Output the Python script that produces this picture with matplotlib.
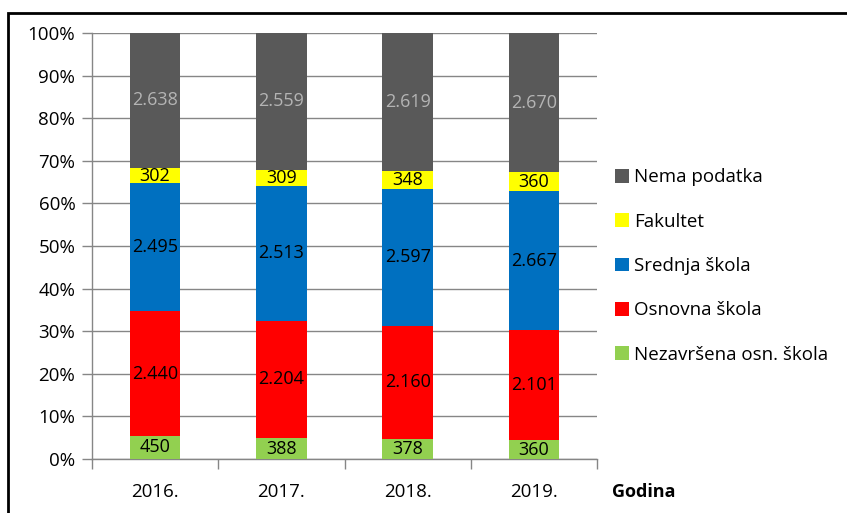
import numpy as np
import matplotlib.pyplot as plt
from matplotlib.patches import Rectangle
from matplotlib.ticker import PercentFormatter, FixedLocator

godine = ['2016.', '2017.', '2018.', '2019.']
nezavrsena = [450, 388, 378, 360]
osnovna = [2440, 2204, 2160, 2101]
srednja = [2495, 2513, 2597, 2667]
fakultet = [302, 309, 348, 360]
nema = [2638, 2559, 2619, 2670]

serije = [
    ('Nezavršena osn. škola', nezavrsena, '#92d050', 'black'),
    ('Osnovna škola', osnovna, '#ff0000', 'black'),
    ('Srednja škola', srednja, '#0070c0', 'black'),
    ('Fakultet', fakultet, '#ffff00', 'black'),
    ('Nema podatka', nema, '#595959', '#b4b4b4'),
]

plt.rcParams['font.family'] = ['Open Sans', 'DejaVu Sans']

ukupno = np.sum([s[1] for s in serije], axis=0)
x = np.arange(len(godine))

fig = plt.figure(figsize=(8.47, 5.13), dpi=100)
ax = fig.add_axes([92/847, 54/513, 505/847, 426/513])

dno = np.zeros(len(godine))
for naziv, vrijednosti, boja, boja_teksta in serije:
    udio = np.array(vrijednosti) / ukupno * 100
    bars = ax.bar(x, udio, 0.4, bottom=dno, color=boja, label=naziv, zorder=3)
    labels = [f'{v:,}'.replace(',', '.') for v in vrijednosti]
    ax.bar_label(bars, labels=labels, label_type='center', color=boja_teksta,
                 fontsize=13, zorder=4)
    dno += udio

ax.set_xlim(-0.5, len(godine) - 0.5)
ax.set_ylim(0, 100)
ax.yaxis.set_major_locator(FixedLocator(np.arange(0, 101, 10)))
ax.yaxis.set_major_formatter(PercentFormatter(decimals=0))
ax.set_xticks(x)
ax.set_xticklabels(godine)
ax.xaxis.set_minor_locator(FixedLocator(np.arange(-0.5, len(godine), 1)))
ax.tick_params(axis='x', which='major', length=0, pad=17, labelsize=13.5)
ax.tick_params(axis='x', which='minor', length=7, color='#868686', width=1)
ax.tick_params(axis='y', length=7, color='#868686', width=1, labelsize=13.5, pad=5)
ax.grid(axis='y', color='#868686', linewidth=1, zorder=0)
for s in ['top', 'right']:
    ax.spines[s].set_visible(False)
for s in ['left', 'bottom']:
    ax.spines[s].set_color('#868686')
    ax.spines[s].set_linewidth(1)
ax.spines['left'].set_zorder(5)

handles, lbls = ax.get_legend_handles_labels()
leg = fig.legend(handles[::-1], lbls[::-1], loc='center left',
                 bbox_to_anchor=(598/847, 1 - 266/513), frameon=False,
                 fontsize=13.5, handlelength=0.75, handleheight=0.75,
                 handletextpad=0.25, labelspacing=1.4)

fig.text(612/847, 1 - 492/513, 'Godina', fontsize=13, fontweight='bold',
         ha='left', va='center')

fig.patches.append(Rectangle((8/847, -0.1), 1.2, 1 - 13/513 + 0.1,
                             transform=fig.transFigure, fill=False,
                             edgecolor='black', linewidth=2))

fig.savefig('out.png', dpi=100)
